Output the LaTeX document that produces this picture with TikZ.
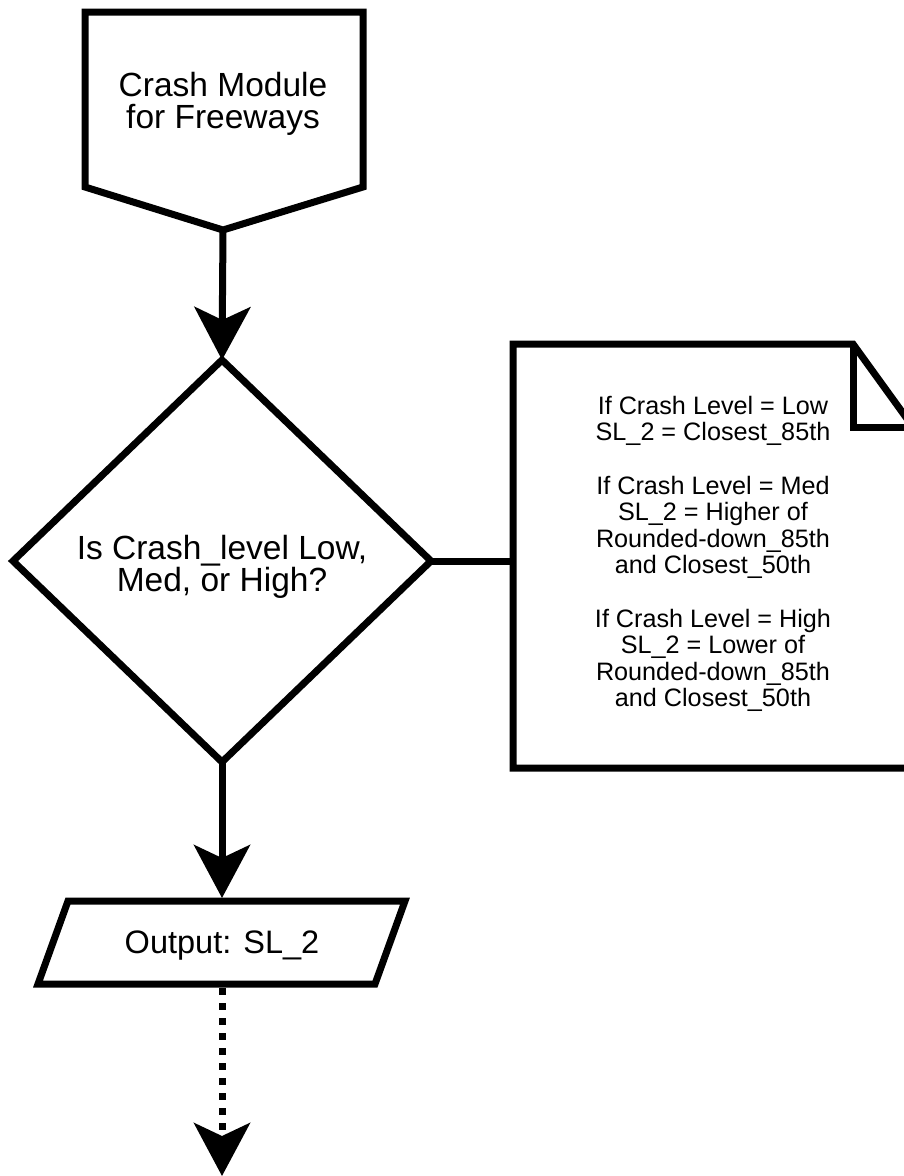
\documentclass[tikz,border=0pt]{standalone}
\usepackage{fontspec}
\setmainfont{Liberation Sans}
\usetikzlibrary{arrows.meta,shapes.geometric}
\begin{document}
\begin{tikzpicture}[x=1pt,y=-1pt,
  shapeline/.style={draw=black,line width=7pt,line join=miter},
  conn/.style={draw=black,line width=7pt},
  arr/.style={conn,-{Stealth[length=53pt,width=56pt,inset=13pt]}},
  dotarr/.style={conn,dash pattern=on 7pt off 8pt,-{Stealth[length=53pt,width=56pt,inset=13pt]}},
  bigtext/.style={align=center,inner sep=0pt,font=\fontsize{33.5}{32.5}\selectfont},
  notetext/.style={align=center,inner sep=0pt,font=\fontsize{25.2}{26.6}\selectfont}]
\useasboundingbox (0,0) rectangle (904,1176);
\fill[white] (0,0) rectangle (904,1176);

% start: off-page connector
\draw[shapeline] (85,12) -- (363,12) -- (363,187) -- (223,230) -- (85,187) -- cycle;
\coordinate (starttip) at (223,230);
\node[bigtext] (start) at (223,104) {Crash Module\\for Freeways};

% decision diamond
\node[diamond,shapeline,minimum width=418pt,minimum height=402pt,inner sep=0pt,outer sep=0pt] (decision) at (222,561) {};
\node[bigtext] (decisiontext) at (222,567) {Is Crash\_level Low,\\Med, or High?};

% note box
\draw[shapeline] (513,344) -- (853,344) -- (913,427) -- (913,768) -- (513,768) -- cycle;
\draw[shapeline] (853,344) -- (853,427) -- (913,427);
\coordinate (noteleft) at (513,561);
\node[notetext] (note) at (713,554) {If Crash Level = Low\\SL\_2 = Closest\_85th\\[26.6pt]
If Crash Level = Med\\SL\_2 = Higher of\\Rounded-down\_85th\\and Closest\_50th\\[26.6pt]
If Crash Level = High\\SL\_2 = Lower of\\Rounded-down\_85th\\and Closest\_50th};

% output parallelogram
\draw[shapeline] (68,901) -- (405,901) -- (375,984) -- (38,984) -- cycle;
\coordinate (outtop) at (222,898);
\coordinate (outbot) at (222,988);
\node[bigtext,font=\fontsize{32.5}{32.5}\selectfont] (output) at (222,946) {Output: SL\_2};
\coordinate (end) at (222,1176);

% connectors
\draw[arr] (starttip) -- (decision.north);
\draw[conn] (decision.east) -- (noteleft);
\draw[arr] (decision.south) -- (outtop);
\draw[dotarr] (outbot) -- (end);
\end{tikzpicture}
\end{document}
